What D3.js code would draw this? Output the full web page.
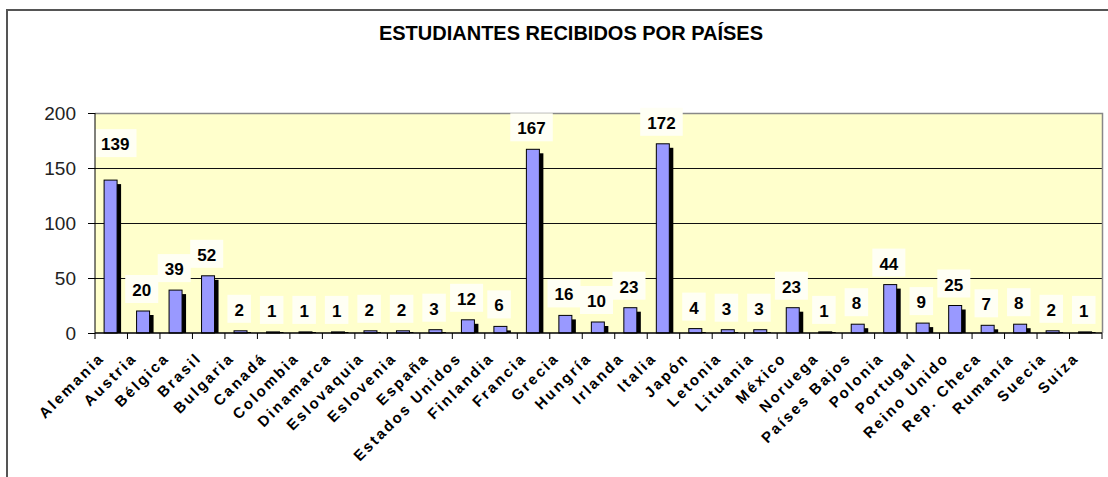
<!DOCTYPE html>
<html>
<head>
<meta charset="utf-8">
<script src="https://cdnjs.cloudflare.com/ajax/libs/d3/7.8.5/d3.min.js"></script>
<style>
  body { margin: 0; background: #fff; }
  text { font-family: "Liberation Sans", Arial, sans-serif; }
</style>
</head>
<body>
<script>
// the data
var paises = ["Alemania", "Austria", "Bélgica", "Brasil", "Bulgaria", "Canadá", "Colombia",
    "Dinamarca", "Eslovaquia", "Eslovenia", "España", "Estados Unidos", "Finlandia", "Francia",
    "Grecia", "Hungría", "Irlanda", "Italia", "Japón", "Letonia", "Lituania", "México",
    "Noruega", "Países Bajos", "Polonia", "Portugal", "Reino Unido", "Rep. Checa", "Rumanía",
    "Suecia", "Suiza"];
var estudiantes = [139, 20, 39, 52, 2, 1, 1, 1, 2, 2, 3, 12, 6, 167, 16, 10, 23, 172, 4, 3, 3,
    23, 1, 8, 44, 9, 25, 7, 8, 2, 1];
var yTicks = [0, 50, 100, 150, 200];
var titulo = "ESTUDIANTES RECIBIDOS POR PAÍSES";

//setting up the size and plot area
var width = 1108,
    height = 477,
    plot = {left: 95, right: 1102, top: 113, bottom: 333};

var svg = d3.select("body").append("svg")
    .attr("width", width)
    .attr("height", height);

// outer frame (only left and top are inside the window)
svg.append("rect")
    .attr("x", 7)
    .attr("y", 10)
    .attr("width", width)
    .attr("height", height)
    .attr("fill", "none")
    .attr("stroke", "#555")
    .attr("stroke-width", 2);

// title
svg.append("text")
    .attr("x", 571)
    .attr("y", 40)
    .attr("text-anchor", "middle")
    .style("font-size", "20px")
    .style("font-weight", "bold")
    .text(titulo);

// scales
var x = d3.scaleBand()
    .domain(paises)
    .range([plot.left, plot.right])
    .padding(0);

var y = d3.scaleLinear()
    .domain([0, 200])
    .range([plot.bottom, plot.top]);

var bw = x.bandwidth();

// yellow plot area
svg.append("rect")
    .attr("x", plot.left)
    .attr("y", plot.top)
    .attr("width", plot.right - plot.left)
    .attr("height", plot.bottom - plot.top)
    .attr("fill", "#ffffcc");

// gridlines
svg.append("g")
    .selectAll("line")
    .data(yTicks.filter(function(d) { return d > 0 && d < 200; }))
    .enter().append("line")
    .attr("x1", plot.left)
    .attr("x2", plot.right)
    .attr("y1", function(d) { return y(d) + 0.5; })
    .attr("y2", function(d) { return y(d) + 0.5; })
    .attr("stroke", "#111")
    .attr("stroke-width", 1);

// grey border top and right
svg.append("path")
    .attr("d", "M" + plot.left + "," + (plot.top + 0.5) + "H" + (plot.right + 0.5) + "V" + plot.bottom)
    .attr("fill", "none")
    .attr("stroke", "#888")
    .attr("stroke-width", 1.5);

// bars with black shadow
var g = svg.append("g")
    .selectAll(".bar")
    .data(estudiantes)
    .enter().append("g")
    .attr("class", "bar");

g.append("rect")
    .attr("x", function(d, i) { return x(paises[i]) + bw * 0.28 + 4; })
    .attr("y", function(d) { return Math.min(y(d) + 4, plot.bottom - 1); })
    .attr("width", bw * 0.4)
    .attr("height", function(d) { return Math.max(plot.bottom - y(d) - 4, 1); })
    .attr("fill", "#000");

g.append("rect")
    .attr("x", function(d, i) { return x(paises[i]) + bw * 0.28; })
    .attr("y", function(d) { return y(d); })
    .attr("width", bw * 0.4)
    .attr("height", function(d) { return plot.bottom - y(d); })
    .attr("fill", "#9999ff")
    .attr("stroke", "#000")
    .attr("stroke-width", 1);

// value labels on white boxes (Alemania's label was moved by hand)
var nudge = {"Alemania": [6, -15]};
var lab = svg.append("g")
    .selectAll(".lab")
    .data(estudiantes)
    .enter().append("g")
    .attr("class", "lab")
    .attr("transform", function(d, i) {
      var n = nudge[paises[i]] || [0, 0];
      return "translate(" + (x(paises[i]) + bw / 2 - 2 + n[0]) + "," + (y(d) - 15 + n[1]) + ")";
    });

lab.append("rect")
    .attr("x", function(d) { return -(String(d).length * 9.5 + 14) / 2; })
    .attr("y", -21)
    .attr("width", function(d) { return String(d).length * 9.5 + 14; })
    .attr("height", 28)
    .attr("fill", "#fffff4");

lab.append("text")
    .attr("text-anchor", "middle")
    .style("font-size", "17px")
    .style("font-weight", "bold")
    .text(function(d) { return d; });

// y axis
var yAxis = svg.append("g")
    .attr("transform", "translate(" + plot.left + ",0)")
    .call(d3.axisLeft(y).tickValues(yTicks).tickSize(7).tickPadding(12));
yAxis.select(".domain").attr("stroke", "#000").attr("d", "M0," + plot.top + "V" + plot.bottom);
yAxis.selectAll("text")
    .style("font-size", "19px")
    .style("font-family", "'Liberation Sans', Arial, sans-serif")
    .attr("fill", "#222");

// x axis, ticks between the categories
var xAxisG = svg.append("g")
    .attr("transform", "translate(0," + plot.bottom + ")");

xAxisG.append("line")
    .attr("x1", plot.left)
    .attr("x2", plot.right)
    .attr("stroke", "#000")
    .attr("stroke-width", 1.5);

xAxisG.selectAll(".tk")
    .data(paises.concat(["fin"]))
    .enter().append("line")
    .attr("class", "tk")
    .attr("x1", function(d, i) { return plot.left + i * bw; })
    .attr("x2", function(d, i) { return plot.left + i * bw; })
    .attr("y1", 0)
    .attr("y2", 6)
    .attr("stroke", "#000");

xAxisG.selectAll(".xl")
    .data(paises)
    .enter().append("text")
    .attr("class", "xl")
    .attr("text-anchor", "end")
    .attr("transform", function(d) {
      return "translate(" + (x(d) + bw / 2 - 6) + ",26) rotate(-45)";
    })
    .style("font-size", "15px")
    .style("font-weight", "bold")
    .style("letter-spacing", "2.3px")
    .text(function(d) { return d; });
</script>
</body>
</html>
